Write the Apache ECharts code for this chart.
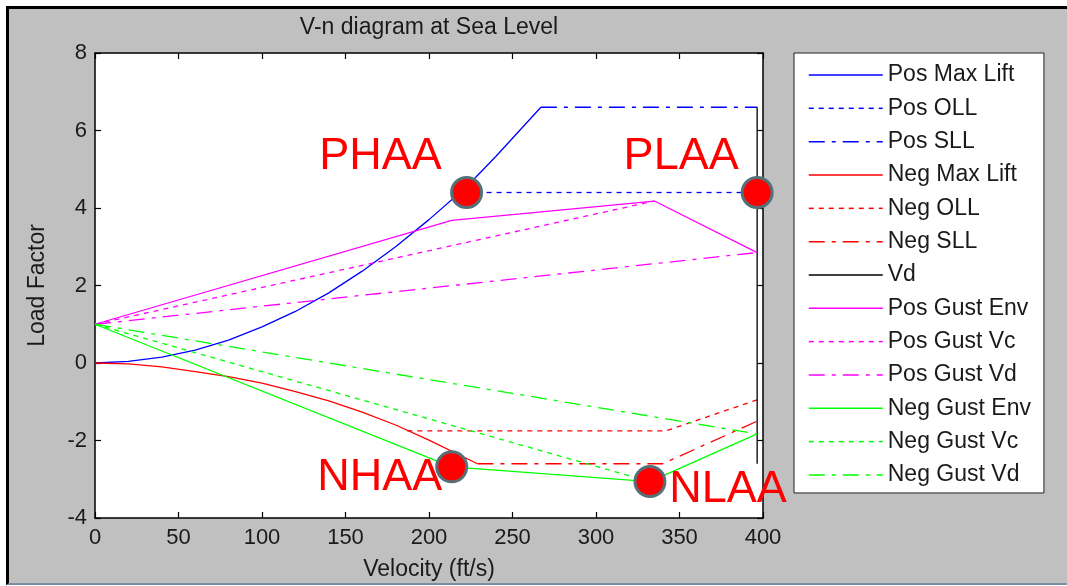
<!DOCTYPE html>
<html>
<head>
<meta charset="utf-8">
<script src="https://cdn.jsdelivr.net/npm/echarts@6/dist/echarts.min.js"></script>
<style>
  html, body { margin: 0; padding: 0; background: #fff; width: 1067px; height: 586px; overflow: hidden; }
  #frame { position: absolute; left: 6px; top: 6px; width: 1061px; height: 579px; box-sizing: border-box;
           background: #c0c0c0; border-top: 3px solid #000; border-left: 3px solid #000; border-bottom: 2px solid #7b8ea3; }
  #chart { position: absolute; left: 0; top: 0; width: 1067px; height: 586px; }
</style>
</head>
<body>
<div id="frame"></div>
<div id="chart"></div>
<script>
// V-n diagram data: [velocity (ft/s), load factor]
const posMaxLift = [[0, 0], [20, 0.04], [40, 0.15], [60, 0.33], [80, 0.59], [100, 0.93], [120, 1.33],
                    [140, 1.81], [160, 2.37], [180, 3.0], [200, 3.7], [222.5, 4.55], [240, 5.33], [267, 6.6]];
const posOLL = [[222.5, 4.4], [396.5, 4.4]];
const posSLL = [[267, 6.6], [396.5, 6.6]];
const negMaxLift = [[0, 0], [20, -0.02], [40, -0.1], [60, -0.22], [80, -0.35], [100, -0.52], [120, -0.74],
                    [140, -0.98], [160, -1.27], [180, -1.6], [200, -1.99], [229, -2.6]];
const negOLL = [[187, -1.75], [342, -1.75], [396.5, -0.95]];
const negSLL = [[229, -2.6], [340, -2.6], [396.5, -1.5]];
const vd = [[396.5, 6.6], [396.5, -2.6]];
const posGustEnv = [[0, 1], [213.6, 3.68], [335, 4.18], [396.5, 2.85]];
const posGustVc = [[0, 1], [335, 4.18]];
const posGustVd = [[0, 1], [396.5, 2.85]];
const negGustEnv = [[0, 1], [213.6, -2.68], [332.3, -3.06], [396.5, -1.83]];
const negGustVc = [[0, 1], [332.3, -3.06]];
const negGustVd = [[0, 1], [396.5, -1.83]];

// Design points
const pointNames = ['PHAA', 'PLAA', 'NHAA', 'NLAA'];
const pointValues = [[222.5, 4.4], [396.5, 4.4], [213.6, -2.68], [332.3, -3.06]];

const FONT = 'Liberation Sans, Arial, sans-serif';
const DOTTED = [5, 5];
const DASHDOT = [16, 7, 4, 7];

const lineDefs = [
  { name: 'Pos Max Lift', data: posMaxLift, color: '#0000ff', type: 'solid' },
  { name: 'Pos OLL', data: posOLL, color: '#0000ff', type: DOTTED },
  { name: 'Pos SLL', data: posSLL, color: '#0000ff', type: DASHDOT },
  { name: 'Neg Max Lift', data: negMaxLift, color: '#ff0000', type: 'solid' },
  { name: 'Neg OLL', data: negOLL, color: '#ff0000', type: DOTTED },
  { name: 'Neg SLL', data: negSLL, color: '#ff0000', type: DASHDOT },
  { name: 'Vd', data: vd, color: '#000000', type: 'solid' },
  { name: 'Pos Gust Env', data: posGustEnv, color: '#ff00ff', type: 'solid' },
  { name: 'Pos Gust Vc', data: posGustVc, color: '#ff00ff', type: DOTTED },
  { name: 'Pos Gust Vd', data: posGustVd, color: '#ff00ff', type: DASHDOT },
  { name: 'Neg Gust Env', data: negGustEnv, color: '#00ff00', type: 'solid' },
  { name: 'Neg Gust Vc', data: negGustVc, color: '#00ff00', type: DOTTED },
  { name: 'Neg Gust Vd', data: negGustVd, color: '#00ff00', type: DASHDOT }
];

// Where each design-point name sits relative to its marker (pixels)
const labelOffsets = { PHAA: [-86, -36], PLAA: [-76, -36], NHAA: [-72, 11], NLAA: [78, 8] };

const lineSeries = lineDefs.map((d, i) => ({
  name: d.name,
  type: 'line',
  data: d.data,
  symbol: 'none',
  showSymbol: false,
  silent: true,
  z: 2 + i * 0.01,
  itemStyle: { color: d.color },
  lineStyle: { color: d.color, width: 1.3, type: d.type }
}));

const pointSeries = {
  name: 'Design Points',
  type: 'scatter',
  data: pointValues.map((v, i) => ({
    name: pointNames[i],
    value: v,
    label: { offset: labelOffsets[pointNames[i]] }
  })),
  symbol: 'circle',
  symbolSize: 30,
  z: 10,
  silent: true,
  itemStyle: { color: '#ff0000', borderColor: '#56707a', borderWidth: 3, opacity: 1 },
  label: {
    show: true,
    position: 'inside',
    formatter: p => p.name,
    color: '#ff0000',
    fontFamily: FONT,
    fontSize: 45,
    align: 'center',
    verticalAlign: 'middle'
  }
};

const axisCommon = {
  type: 'value',
  axisLine: { show: true, onZero: false, lineStyle: { color: '#000', width: 1.5 } },
  axisTick: { show: true, inside: true, length: 6, lineStyle: { color: '#000', width: 1.2 } },
  splitLine: { show: false }
};

const chart = echarts.init(document.getElementById('chart'), null, { renderer: 'canvas' });
chart.setOption({
  animation: false,
  backgroundColor: 'transparent',
  title: {
    text: 'V-n diagram at Sea Level',
    left: 424,
    textAlign: 'center',
    top: 11,
    textStyle: { fontFamily: FONT, fontSize: 23, fontWeight: 'normal', color: '#1a1a1a' }
  },
  grid: { left: 95, right: 304, top: 53, bottom: 68, show: true, backgroundColor: '#fff', borderWidth: 0 },
  legend: {
    orient: 'vertical',
    left: 794,
    top: 53,
    itemWidth: 74,
    itemHeight: 14,
    itemGap: 9.33,
    padding: [10, 13, 6, 14],
    backgroundColor: '#fff',
    borderColor: '#222',
    borderWidth: 1,
    selectedMode: false,
    data: lineDefs.map(d => d.name),
    itemStyle: { opacity: 0, borderWidth: 0 },
    lineStyle: { width: 1.5 },
    textStyle: { fontFamily: FONT, fontSize: 23, color: '#1a1a1a', lineHeight: 24 }
  },
  xAxis: [
    Object.assign({}, axisCommon, {
      position: 'bottom', min: 0, max: 400, interval: 50,
      axisLabel: { fontFamily: FONT, fontSize: 22, color: '#1a1a1a', margin: 9 },
      name: 'Velocity (ft/s)', nameLocation: 'middle', nameGap: 40,
      nameTextStyle: { fontFamily: FONT, fontSize: 23, color: '#1a1a1a' }
    }),
    Object.assign({}, axisCommon, {
      position: 'top', min: 0, max: 400, interval: 50, axisLabel: { show: false }
    })
  ],
  yAxis: [
    Object.assign({}, axisCommon, {
      position: 'left', min: -4, max: 8, interval: 2,
      axisLabel: { fontFamily: FONT, fontSize: 22, color: '#1a1a1a', margin: 8 },
      name: 'Load Factor', nameLocation: 'middle', nameGap: 46,
      nameTextStyle: { fontFamily: FONT, fontSize: 23, color: '#1a1a1a' }
    }),
    Object.assign({}, axisCommon, {
      position: 'right', min: -4, max: 8, interval: 2, axisLabel: { show: false }
    })
  ],
  series: lineSeries.concat([pointSeries])
});
</script>
</body>
</html>
